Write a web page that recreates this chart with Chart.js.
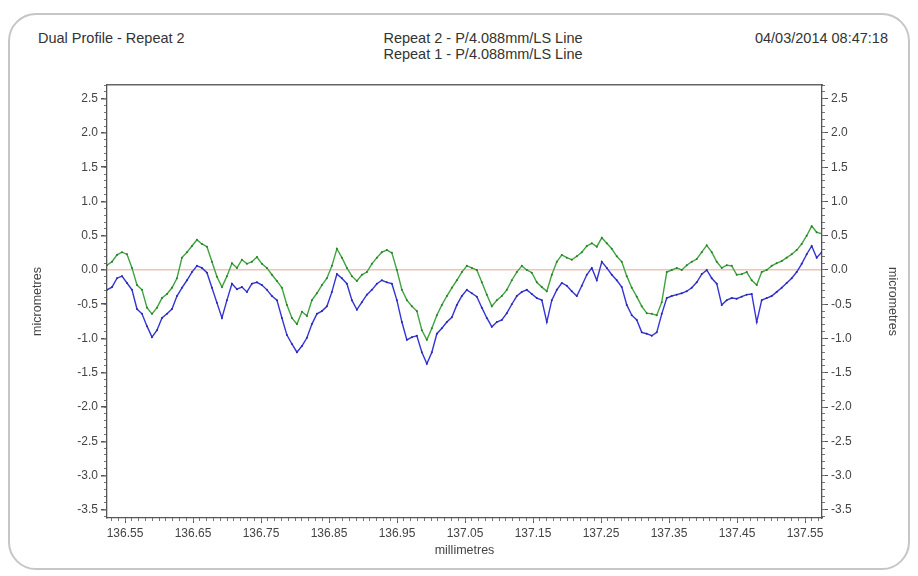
<!DOCTYPE html>
<html>
<head>
<meta charset="utf-8">
<script src="https://cdn.jsdelivr.net/npm/chart.js@4/dist/chart.umd.min.js"></script>
<style>
html,body{margin:0;padding:0;background:#fff;}
#wrap{position:relative;width:918px;height:576px;overflow:hidden;font-family:"Liberation Sans",Arial,sans-serif;color:#333;}
#frame{position:absolute;left:8px;top:13px;width:902px;height:557px;box-sizing:border-box;border:2px solid #c6c6c6;border-radius:28px;}
.hd{position:absolute;font-size:14.5px;line-height:16px;white-space:nowrap;}
#hl{left:38px;top:30px;}
#hc{left:483px;top:30px;transform:translateX(-50%);text-align:center;}
#hr{right:30px;top:30px;}
canvas{position:absolute;left:0;top:0;}
</style>
</head>
<body>
<div id="wrap">
  <div id="frame"></div>
  <div class="hd" id="hl">Dual Profile - Repeat 2</div>
  <div class="hd" id="hc">Repeat 2 - P/4.088mm/LS Line<br>Repeat 1 - P/4.088mm/LS Line</div>
  <div class="hd" id="hr">04/03/2014 08:47:18</div>
  <canvas id="c" width="918" height="576"></canvas>
</div>
<script>
// ---- data ----
const xMin = 136.5235, xMax = 137.575;      // millimetres, axis range
const xStart = 136.5235, xStep = 0.00735;   // profile sampling
const yMin = -3.62, yMax = 2.70;            // micrometres
const xTickValues = [136.55,136.65,136.75,136.85,136.95,137.05,137.15,137.25,137.35,137.45,137.55];
const xTickLabels = ['136.55','136.65','136.75','136.85','136.95','137.05','137.15','137.25','137.35','137.45','137.55'];
const yTickValues = [-3.5,-3.0,-2.5,-2.0,-1.5,-1.0,-0.5,0.0,0.5,1.0,1.5,2.0,2.5];
const yTickLabels = ['-3.5','-3.0','-2.5','-2.0','-1.5','-1.0','-0.5','0.0','0.5','1.0','1.5','2.0','2.5'];

// Repeat 2 (green) profile, micrometres
const repeat2 = [
 0.07,0.12,0.22,0.26,0.23,0.03,-0.22,-0.29,-0.55,-0.64,
 -0.55,-0.41,-0.35,-0.26,-0.12,0.18,0.26,0.35,0.44,0.38,
 0.34,0.12,-0.10,-0.25,-0.09,0.10,0.03,0.15,0.09,0.12,
 0.19,0.09,0.03,-0.07,-0.16,-0.26,-0.51,-0.70,-0.79,-0.61,
 -0.67,-0.44,-0.34,-0.22,-0.12,0.06,0.31,0.18,0.03,-0.09,
 -0.16,-0.07,-0.03,0.09,0.18,0.26,0.29,0.25,0.00,-0.29,
 -0.44,-0.53,-0.60,-0.88,-1.02,-0.85,-0.66,-0.51,-0.38,-0.26,
 -0.15,-0.03,0.06,0.03,0.00,-0.18,-0.36,-0.53,-0.44,-0.38,
 -0.29,-0.15,-0.03,0.06,0.00,-0.04,-0.18,-0.25,-0.31,-0.07,
 0.12,0.22,0.18,0.15,0.20,0.26,0.35,0.39,0.34,0.47,
 0.39,0.31,0.20,0.12,-0.09,-0.26,-0.39,-0.53,-0.63,-0.64,
 -0.66,-0.47,-0.03,0.00,0.03,0.00,0.07,0.12,0.16,0.26,
 0.36,0.26,0.12,0.03,0.07,0.06,-0.07,-0.06,-0.03,-0.15,
 -0.22,-0.03,0.00,0.06,0.10,0.13,0.18,0.23,0.29,0.38,
 0.50,0.64,0.55,0.53
];
// Repeat 1 (blue) profile, micrometres
const repeat1 = [
 -0.29,-0.25,-0.12,-0.09,-0.19,-0.29,-0.57,-0.64,-0.82,-0.98,
 -0.88,-0.70,-0.64,-0.57,-0.38,-0.26,-0.15,-0.03,0.06,0.03,
 -0.04,-0.26,-0.48,-0.70,-0.44,-0.20,-0.28,-0.25,-0.32,-0.20,
 -0.18,-0.22,-0.29,-0.38,-0.44,-0.70,-0.95,-1.08,-1.20,-1.11,
 -0.99,-0.79,-0.64,-0.60,-0.53,-0.32,-0.06,-0.12,-0.20,-0.44,
 -0.58,-0.47,-0.36,-0.29,-0.20,-0.15,-0.18,-0.20,-0.44,-0.76,
 -1.02,-0.98,-0.96,-1.20,-1.37,-1.20,-0.93,-0.85,-0.76,-0.69,
 -0.51,-0.38,-0.29,-0.34,-0.39,-0.55,-0.70,-0.83,-0.76,-0.73,
 -0.63,-0.50,-0.38,-0.32,-0.29,-0.35,-0.41,-0.44,-0.76,-0.44,
 -0.29,-0.19,-0.23,-0.31,-0.38,-0.23,-0.07,0.03,-0.15,0.12,
 0.03,-0.07,-0.15,-0.25,-0.51,-0.66,-0.73,-0.91,-0.93,-0.96,
 -0.91,-0.64,-0.41,-0.38,-0.36,-0.34,-0.31,-0.26,-0.18,-0.06,
 0.00,-0.12,-0.20,-0.51,-0.44,-0.41,-0.42,-0.39,-0.36,-0.35,
 -0.76,-0.44,-0.41,-0.38,-0.32,-0.26,-0.19,-0.12,-0.03,0.09,
 0.23,0.35,0.18,0.26
];

// ---- chart ----
const FONT = '"Liberation Sans", Arial, sans-serif';
const AXIS = '#555';
const toPts = arr => arr.map((v, i) => ({x: xStart + i * xStep, y: v}));
// keep axis range fixed after tick generation
const keepX = s => { s.min = xMin; s.max = xMax; };
const keepY = s => { s.min = yMin; s.max = yMax; };

new Chart(document.getElementById('c'), {
  type: 'line',
  data: {
    datasets: [
      {label: 'Repeat 1', data: toPts(repeat1), borderColor: '#3434d6', borderWidth: 1.4, pointRadius: 1, pointBorderWidth: 0, pointBackgroundColor: '#2a2aa8', tension: 0, xAxisID: 'x', yAxisID: 'y'},
      {label: 'Repeat 2', data: toPts(repeat2), borderColor: '#3ea43e', borderWidth: 1.4, pointRadius: 1, pointBorderWidth: 0, pointBackgroundColor: '#2c7a2c', tension: 0, xAxisID: 'x', yAxisID: 'y'}
    ]
  },
  options: {
    responsive: false,
    animation: false,
    events: [],
    layout: {padding: {top: 85, left: 0, right: 0, bottom: 0}},
    plugins: {legend: {display: false}, title: {display: false}, tooltip: {enabled: false}},
    scales: {
      x: {
        type: 'linear', position: 'bottom', weight: 1, min: xMin, max: xMax,
        afterFit: s => { s.height = 58; },
        afterBuildTicks: s => { s.ticks = xTickValues.map(v => ({value: v})); keepX(s); },
        ticks: {autoSkip: false, maxRotation: 0, minRotation: 0, padding: 3, color: '#444',
                font: {family: FONT, size: 12}, callback: (v, i) => xTickLabels[i]},
        grid: {drawOnChartArea: false, drawTicks: true, tickLength: 5, color: AXIS},
        border: {display: true, color: AXIS, width: 1.3},
        title: {display: true, text: 'millimetres', color: '#444', font: {family: FONT, size: 12.5}, padding: {top: 0, bottom: 18}}
      },
      xMinor: {
        type: 'linear', position: 'bottom', weight: 0, min: xMin, max: xMax,
        afterFit: s => { s.height = 0; },
        afterBuildTicks: keepX,
        ticks: {display: false, stepSize: 0.01, includeBounds: false},
        grid: {drawOnChartArea: false, drawTicks: true, tickLength: 3, color: '#777'},
        border: {display: false}
      },
      xTop: {
        type: 'linear', position: 'top', weight: 0, min: xMin, max: xMax,
        afterFit: s => { s.height = 0; },
        afterBuildTicks: keepX,
        ticks: {display: false},
        grid: {display: false},
        border: {display: true, color: '#666', width: 1.6}
      },
      y: {
        type: 'linear', position: 'left', weight: 1, min: yMin, max: yMax,
        afterFit: s => { s.width = 107; },
        afterBuildTicks: s => { s.ticks = yTickValues.map(v => ({value: v})); keepY(s); },
        ticks: {autoSkip: false, padding: 3, color: '#444', font: {family: FONT, size: 12}, callback: (v, i) => yTickLabels[i]},
        grid: {drawOnChartArea: true, drawTicks: true, tickLength: 6, tickColor: AXIS, lineWidth: 1.5,
               color: c => (c.tick && Math.abs(c.tick.value) < 1e-9) ? '#ebc5b8' : 'rgba(0,0,0,0)'},
        border: {display: true, color: AXIS, width: 1.3},
        title: {display: true, text: 'micrometres', color: '#444', font: {family: FONT, size: 12.5}, padding: {top: 30, bottom: 0}}
      },
      yMinor: {
        type: 'linear', position: 'left', weight: 0, min: yMin, max: yMax,
        afterFit: s => { s.width = 0; },
        afterBuildTicks: keepY,
        ticks: {display: false, stepSize: 0.1, includeBounds: false},
        grid: {drawOnChartArea: false, drawTicks: true, tickLength: 3, color: '#777'},
        border: {display: false}
      },
      y2: {
        type: 'linear', position: 'right', weight: 1, min: yMin, max: yMax,
        afterFit: s => { s.width = 96; },
        afterBuildTicks: s => { s.ticks = yTickValues.map(v => ({value: v})); keepY(s); },
        ticks: {autoSkip: false, padding: 3, color: '#444', font: {family: FONT, size: 12}, callback: (v, i) => yTickLabels[i]},
        grid: {drawOnChartArea: false, drawTicks: true, tickLength: 6, color: AXIS},
        border: {display: true, color: AXIS, width: 1.3},
        title: {display: true, text: 'micrometres', color: '#444', font: {family: FONT, size: 12.5}, padding: {top: 18, bottom: 0}}
      },
      y2Minor: {
        type: 'linear', position: 'right', weight: 0, min: yMin, max: yMax,
        afterFit: s => { s.width = 0; },
        afterBuildTicks: keepY,
        ticks: {display: false, stepSize: 0.1, includeBounds: false},
        grid: {drawOnChartArea: false, drawTicks: true, tickLength: 3, color: '#777'},
        border: {display: false}
      }
    }
  }
});
</script>
</body>
</html>
